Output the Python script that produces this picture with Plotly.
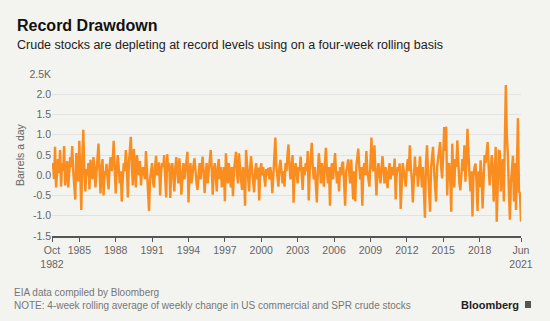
import pandas as pd
import plotly.graph_objects as go

vals_1982_1992 = [0.15, 0.3, -0.1, 0.7, -0.3, 0.2, 0.4, 0.05, 0.62, -0.28,
                  0.3, 0.1, 0.72, -0.25, 0.2, 0.35, -0.3, 0.1, 0.45, 0.2,
                  0.72, 0.1, -0.2, -0.6, 0.55, 0.1, -0.15, 0.85, 0.2, -0.86,
                  0.4, 1.12, 0.1, -0.4, 0.15, 0.0, 0.3, -0.35, 0.38, 0.05,
                  -0.1, 0.45, 0.2, -0.3, 0.1, 0.3, 0.78, 0.1, -0.45, 0.2,
                  0.4, -0.5, 0.1, 0.0, 0.28, -0.1, -0.35, 0.2, 0.45, 0.1,
                  0.3, 0.85, 0.15, -0.45, 0.1, 0.5, 0.2, -0.2, 0.1, -0.65,
                  -0.1, 0.3, 0.1, 0.62, 0.2, -0.55, 0.3, 0.6, 0.95, 0.2,
                  -0.25, 0.65, 0.1, -0.3, 0.5, 0.2, 0.0, 0.35, -0.25, 0.1,
                  0.2, 0.05, -0.1, 0.6, 0.1, -0.4, -0.88, -0.1, 0.2, 0.3,
                  -0.2, -0.3, 0.2, 0.48, 0.0, 0.1, 0.32, -0.5, 0.1, 0.3,
                  0.2, 0.5, -0.1, -0.55, 0.52, 0.1, 0.3]
vals_1992_1998 = [-0.56, 0.1, 0.3, 0.0, -0.4, 0.2, 0.45, 0.1, -0.2, 0.42,
                  0.1, -0.48, 0.0, 0.3, -0.1, 0.2, 0.35, 0.58, -0.67, 0.0,
                  0.3, -0.2, 0.1, 0.25, 0.42, 0.0, -0.2, -0.36, 0.1, 0.3,
                  -0.1, 0.2, 0.46, 0.1, -0.44, 0.0, 0.3, -0.2, 0.1, 0.35,
                  0.62, 0.2, -0.48, 0.1, 0.3, 0.0, -0.4, 0.2, 0.4, -0.1,
                  0.2, -0.3, 0.1, 0.2, -0.64, 0.54, 0.1, -0.2, 0.3, 0.0,
                  -0.3, 0.2, -0.52, 0.1, 0.3, 0.58, 0.0, -0.2]
vals_1998_2006 = [0.54, 0.1, -0.1, -0.36, 0.2, 0.0, -0.75, 0.62, 0.2, 0.0,
                  -0.4, 0.2, 0.47, 0.1, -0.2, -0.42, 0.1, 0.3, -0.1, 0.19,
                  -0.62, 0.1, 0.3, 0.0, 0.2, -0.1, -0.28, 0.15, 0.0, 0.18,
                  -0.1, 0.2, 0.0, -0.44, 0.1, 0.4, 0.93, 0.2, -0.1, -0.28,
                  0.2, 0.38, 0.1, -0.2, 0.1, -0.28, 0.3, 0.1, 0.5, 0.76,
                  0.2, -0.1, 0.2, 0.5, -0.68, 0.1, 0.3, 0.0, -0.2, 0.2,
                  0.1, 0.46, 0.0, -0.36, 0.2, 0.0, 0.3, 0.1, 0.6, -0.62,
                  0.1, 0.4, 0.8, 0.2, -0.1, 0.2, -0.3, -0.67, 0.1, 0.54,
                  0.2, -0.2, 0.3, 0.0, -0.28, 0.3, 0.68, 0.1, -0.2, 0.2,
                  -0.75, 0.1, 0.3, -0.1, 0.3]
vals_2006_2013 = [0.55, 0.1, -0.2, 0.1, -0.4, 0.2, 0.0, 0.3, 0.33, -0.2,
                  -0.75, 0.1, 0.2, 0.39, 0.0, -0.2, 0.39, 0.0, -0.6, 0.1,
                  -0.64, 0.2, 0.4, 0.66, 0.2, -0.1, 0.2, -0.75, 0.1, 0.3,
                  0.0, 0.6, 0.1, -0.1, -0.28, 0.3, 0.93, 0.2, 0.1, 0.74,
                  0.0, -0.5, 0.1, 0.3, 0.0, -0.2, 0.2, 0.47, 0.1, -0.2,
                  0.2, 0.0, -0.32, 0.1, 0.3, -0.1, 0.2, 0.0, 0.1, 0.41,
                  -0.6, 0.0, 0.2, 0.1, 0.29, -0.83, 0.0, 0.3, 0.1, -0.2,
                  -0.28, 0.2, 0.4, 0.1, 0.74, 0.2, -0.1, -0.67, 0.1, 0.46,
                  0.0, 0.2, -0.28, 0.2, 0.47, 0.1, -0.3, 0.2, -0.6, -1.05, 0.3]
vals_2013_2021 = [0.74, 0.1, -0.5, -0.9, 0.2, 0.4, 0.7, 0.1, -0.2, -0.65,
                  0.2, 0.4, 0.6, 0.82, 0.2, -0.08, 0.5, 1.19, 0.6, 1.2,
                  -0.5, 0.2, 0.3, -0.1, -0.9, 0.78, 0.1, -0.3, 0.4, 0.2,
                  0.86, 0.1, -0.2, -0.37, 0.2, 0.4, 0.1, 0.74, -0.16, 0.3,
                  1.15, 0.4, 0.0, -0.4, 0.1, -1.02, 0.0, 0.2, 0.29, -0.2,
                  -0.88, 0.1, -0.3, 0.37, 0.0, -0.82, 0.2, 0.5, 0.3, 0.6,
                  0.82, 0.2, -0.25, 0.1, 0.5, 0.2, -0.65, 0.0, 0.7, -1.15,
                  -0.2, 0.6, 0.59, -0.4, 0.2, 0.4, -0.65, 0.6, 2.23, 1.0,
                  0.5, -0.4, -1.1, -0.2, 0.3, 0.48, -0.65, 0.3, -0.86, 0.9,
                  1.41, -0.4, -0.45, -1.15]

values = vals_1982_1992 + vals_1992_1998 + vals_1998_2006 + vals_2006_2013 + vals_2013_2021
dates = pd.date_range("1982-10-01", periods=len(values), freq="MS")

y_tickvals = [-1.5, -1.0, -0.5, 0.0, 0.5, 1.0, 1.5, 2.0, 2.5]
y_ticktext = ["-1.5", "-1.0", "-0.5", "0.0", "0.5", "1.0", "1.5", "2.0", "2.5K"]
x_tickvals = ["1982-10-01", "1985-01-01", "1988-01-01", "1991-01-01", "1994-01-01",
              "1997-01-01", "2000-01-01", "2003-01-01", "2006-01-01", "2009-01-01",
              "2012-01-01", "2015-01-01", "2018-01-01", "2021-06-01"]
x_ticktext = ["Oct<br>1982", "1985", "1988", "1991", "1994", "1997", "2000", "2003",
              "2006", "2009", "2012", "2015", "2018", "Jun<br>2021"]

W, H = 550, 321
L, R, T, B = 52, 29, 74, 85
PW, PH = W - L - R, H - T - B

def px(x):
    return (x - L) / PW

def py(y):
    return (H - B - y) / PH

FONT = "Liberation Sans, Arial, sans-serif"
BG = "#f3f3ef"

fig = go.Figure()
fig.add_trace(go.Scatter(x=dates, y=values, mode="lines",
                         line=dict(color="#f98d1f", width=2.4), hoverinfo="skip"))

fig.update_layout(
    width=W, height=H,
    margin=dict(l=L, r=R, t=T, b=B),
    paper_bgcolor=BG, plot_bgcolor=BG,
    showlegend=False,
    font=dict(family=FONT, size=10.5, color="#666666"),
    xaxis=dict(range=["1982-10-01", "2021-06-01"], tickvals=x_tickvals, ticktext=x_ticktext,
               showgrid=False, showline=True, linecolor="#555555", linewidth=1.5,
               ticks="outside", ticklen=4, tickcolor="#555555", tickwidth=1,
               tickfont=dict(size=10.5, color="#666666"), zeroline=False),
    yaxis=dict(range=[-1.5, 2.5], tickvals=y_tickvals, ticktext=y_ticktext,
               showgrid=True, gridcolor="#e2e2e2", gridwidth=1, zeroline=False,
               ticks="", tickfont=dict(size=10.5, color="#666666")),
)

ann = [
    dict(text="<b>Record Drawdown</b>", x=px(15), y=py(25), xanchor="left", yanchor="middle",
         font=dict(size=16, color="#111111")),
    dict(text="Crude stocks are depleting at record levels using on a four-week rolling basis",
         x=px(15), y=py(45), xanchor="left", yanchor="middle",
         font=dict(size=12.5, color="#222222")),
    dict(text="Barrels a day", x=px(20), y=py(155), textangle=-90, xanchor="center", yanchor="middle",
         font=dict(size=10.5, color="#666666")),
    dict(text="EIA data compiled by Bloomberg", x=px(12), y=py(292), xanchor="left", yanchor="middle",
         font=dict(size=10, color="#777777")),
    dict(text="NOTE: 4-week rolling average of weekly change in US commercial and SPR crude stocks",
         x=px(12), y=py(305), xanchor="left", yanchor="middle",
         font=dict(size=10, color="#777777")),
    dict(text="<b>Bloomberg</b>", x=px(521), y=py(305), xanchor="right", yanchor="middle",
         font=dict(size=11, color="#222222")),
]
for a in ann:
    a.update(xref="paper", yref="paper", showarrow=False)
fig.update_layout(annotations=ann)

fig.add_shape(type="rect", xref="paper", yref="paper",
              x0=px(525), x1=px(531), y0=py(308), y1=py(301),
              fillcolor="#555555", line=dict(width=0))

fig.write_html("out.html")
